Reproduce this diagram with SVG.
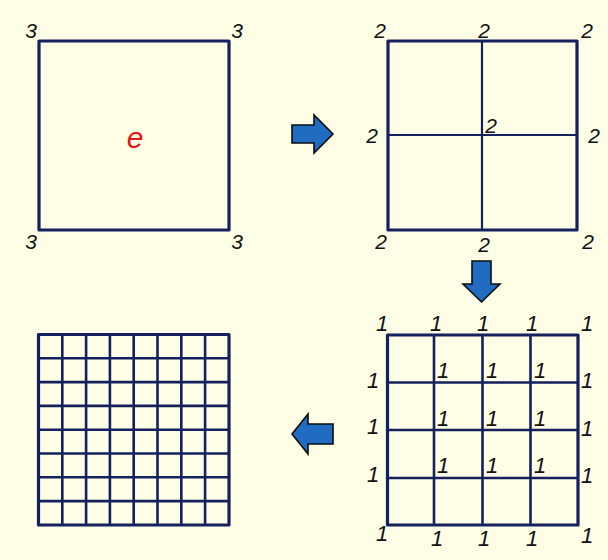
<svg xmlns="http://www.w3.org/2000/svg" width="608" height="560" viewBox="0 0 608 560">
<style>
.bg{fill:#fefde6}
.frame{fill:none;stroke:#14215e;stroke-width:3.2;stroke-linejoin:round}
.grid{stroke:#14215e;stroke-width:2.2;fill:none}
.grid3{stroke:#14215e;stroke-width:2.6;fill:none}
.num{font-family:"Liberation Sans",Arial,sans-serif;font-size:21px;font-style:italic;fill:#111;text-anchor:middle}
.one{font-family:"Liberation Sans",Arial,sans-serif;font-size:22px;font-style:italic;fill:#111;text-anchor:middle}
.e{font-family:"Liberation Sans",Arial,sans-serif;font-size:30px;font-style:italic;fill:#e01818;text-anchor:middle}
.arrow{fill:#1f6cc0;stroke:#0d0d0d;stroke-width:1.6;stroke-linejoin:miter}
</style>
<rect class="bg" x="0" y="0" width="608" height="560"/>

<g id="square1">
<rect class="frame" x="39" y="41" width="190" height="189"/>
<text class="e" x="135" y="148">e</text>
<text class="num" x="31" y="38">3</text>
<text class="num" x="237" y="38">3</text>
<text class="num" x="31" y="249">3</text>
<text class="num" x="237" y="249">3</text>
</g>

<g id="square2">
<line class="grid" x1="482" y1="41" x2="482" y2="230"/>
<line class="grid" x1="388" y1="135" x2="577" y2="135"/>
<rect class="frame" x="388" y="41" width="189" height="189"/>
<text class="num" x="380" y="38">2</text>
<text class="num" x="484" y="38">2</text>
<text class="num" x="587" y="38">2</text>
<text class="num" x="372" y="143">2</text>
<text class="num" x="491" y="133">2</text>
<text class="num" x="594" y="143">2</text>
<text class="num" x="381" y="249">2</text>
<text class="num" x="484" y="252">2</text>
<text class="num" x="588" y="249">2</text>
</g>

<g id="square3">
<path class="grid3" d="M434 335V525M482.5 335V525M530.5 335V525M387.5 382.5H578M387.5 430H578M387.5 478H578"/>
<rect class="frame" x="387.5" y="335" width="190.5" height="190"/>
<text class="one" x="382" y="331">1</text>
<text class="one" x="436" y="331">1</text>
<text class="one" x="483" y="331">1</text>
<text class="one" x="532" y="331">1</text>
<text class="one" x="587" y="331">1</text>
<text class="one" x="373" y="388">1</text>
<text class="one" x="373" y="434">1</text>
<text class="one" x="373" y="482">1</text>
<text class="one" x="587" y="388">1</text>
<text class="one" x="587" y="436">1</text>
<text class="one" x="587" y="483">1</text>
<text class="one" x="443" y="378">1</text>
<text class="one" x="492" y="378">1</text>
<text class="one" x="540" y="378">1</text>
<text class="one" x="443" y="426">1</text>
<text class="one" x="492" y="426">1</text>
<text class="one" x="540" y="426">1</text>
<text class="one" x="443" y="473">1</text>
<text class="one" x="492" y="473">1</text>
<text class="one" x="540" y="473">1</text>
<text class="one" x="382" y="541">1</text>
<text class="one" x="437" y="546">1</text>
<text class="one" x="484" y="546">1</text>
<text class="one" x="532" y="546">1</text>
<text class="one" x="587" y="543">1</text>
</g>

<g id="square4">
<path class="grid3" d="M62.3 334.5V525M86.1 334.5V525M109.9 334.5V525M133.7 334.5V525M157.5 334.5V525M181.3 334.5V525M205.1 334.5V525M38.5 358.3H229M38.5 382.1H229M38.5 405.9H229M38.5 429.7H229M38.5 453.5H229M38.5 477.3H229M38.5 501.1H229"/>
<rect class="frame" x="38.5" y="334.5" width="190.5" height="190.5"/>
</g>

<g id="connectors">
<polygon class="arrow" points="292,125 314,125 314,115 333,134 314,153 314,143 292,143"/>
<polygon class="arrow" points="472,261 491,261 491,284 500,284 481.5,302 463,284 472,284"/>
<polygon class="arrow" points="333,424 308,424 308,414 292,434 308,454 308,444 333,444"/>
</g>
</svg>
